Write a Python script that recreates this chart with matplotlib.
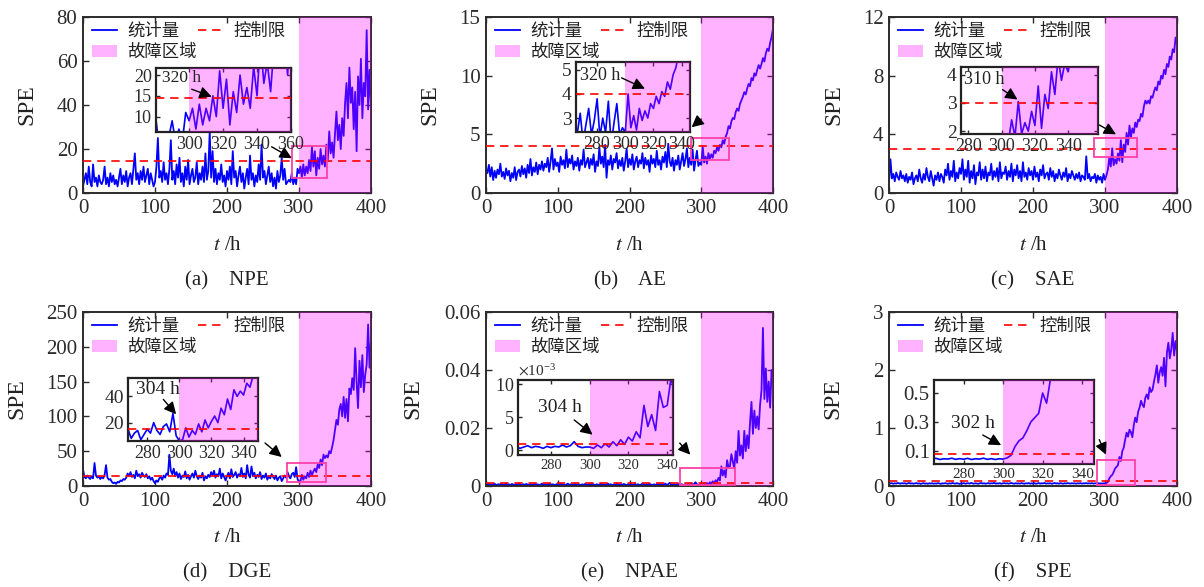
import numpy as np
import matplotlib.pyplot as plt
from matplotlib import ticker
from matplotlib.patches import Rectangle

plt.rcParams['font.family'] = ['Liberation Serif', 'Noto Sans CJK SC']
plt.rcParams['mathtext.fontset'] = 'stix'
plt.rcParams['axes.linewidth'] = 1.4
plt.rcParams['axes.edgecolor'] = '#2b2b2b'
plt.rcParams['xtick.color'] = '#2b2b2b'
plt.rcParams['ytick.color'] = '#2b2b2b'
plt.rcParams['text.color'] = '#222222'

W, H = 1204, 587

# one sample every 2 h
t_hours = np.arange(0, 401, 2)
fault_start = 300

npe_spe = [
    3, 6, 9, 4, 12, 5, 3, 13, 5, 7,
    3, 8, 5, 4, 6, 12, 4, 7, 3, 9,
    5, 8, 4, 6, 3, 7, 11, 4, 8, 5,
    10, 3, 7, 9, 4, 11, 18, 6, 9, 4,
    10, 6, 12, 5, 8, 11, 4, 9, 6, 3,
    5, 12, 25, 7, 10, 5, 14, 6, 9, 4,
    11, 24, 6, 10, 4, 13, 7, 16, 5, 9,
    3, 12, 6, 15, 4, 8, 11, 5, 7, 14,
    4, 9, 6, 12, 5, 18, 6, 10, 28, 7,
    19, 5, 11, 4, 9, 6, 13, 5, 8, 3,
    10, 6, 12, 4, 19, 7, 10, 3, 8, 12,
    5, 9, 2, 7, 11, 4, 17, 6, 9, 3,
    8, 5, 13, 6, 22, 7, 10, 4, 8, 12,
    5, 9, 3, 7, 2, 10, 5, 8, 16, 6,
    11, 4, 5, 6, 5, 9, 4, 7, 4, 11,
    9, 12, 7, 13, 8, 12, 9, 15, 10, 21,
    12, 19, 8, 16, 11, 20, 13, 17, 12, 22,
    15, 28, 18, 23, 16, 27, 37, 24, 31, 20,
    34, 26, 41, 50, 34, 57, 41, 48, 29, 46,
    19, 53, 40, 61, 34, 50, 44, 74, 38, 56,
    39]

ae_spe = [
    2.1, 1.7, 2.4, 1.4, 2.2, 1.1, 1.9, 1.3, 2.0, 1.6,
    2.5, 1.4, 1.8, 1.2, 2.1, 1.5, 1.9, 1.0, 1.7, 1.3,
    2.2, 1.1, 1.8, 2.0, 1.4, 2.3, 1.6, 2.1, 1.3, 2.4,
    1.7, 2.9, 1.5, 2.2, 1.8, 2.6, 1.6, 2.4, 2.0, 2.7,
    1.9, 2.5, 2.2, 3.0, 1.8, 2.7, 3.8, 2.0, 2.9, 2.3,
    2.6, 1.8, 3.1, 2.4, 2.8, 2.1, 3.7, 2.2, 2.9, 2.5,
    3.2, 2.0, 2.7, 2.3, 3.0, 1.9, 2.8, 2.4, 3.7, 2.2,
    2.6, 3.0, 2.1, 2.9, 2.4, 3.3, 1.8, 2.7, 2.3, 3.9,
    2.5, 3.1, 2.2, 4.1, 1.3, 2.8, 2.4, 3.2, 2.0, 2.9,
    2.6, 3.4, 2.1, 2.8, 2.3, 3.0, 1.9, 2.7, 3.8, 2.2,
    2.9, 2.4, 3.3, 2.0, 2.7, 3.1, 2.2, 2.8, 2.5, 3.4,
    2.1, 3.0, 2.4, 2.8, 1.8, 3.2, 2.5, 2.9, 2.2, 3.6,
    2.4, 2.8, 2.0, 3.1, 2.6, 3.5, 2.2, 4.2, 2.7, 2.3,
    3.0, 1.9, 2.8, 2.4, 3.2, 2.0, 2.7, 3.4, 2.3, 2.9,
    3.8, 2.2, 3.0, 2.4, 3.7, 1.9, 2.8, 3.6, 2.3, 2.6,
    2.4, 4.0, 2.6, 3.1, 2.5, 3.4, 2.9, 3.3, 3.0, 3.6,
    3.4, 3.9, 3.6, 4.1, 3.9, 4.5, 4.2, 4.8, 5.1, 5.7,
    5.5, 6.1, 6.4, 6.3, 6.9, 7.2, 7.0, 7.6, 7.9, 8.2,
    8.6, 8.4, 8.9, 9.3, 9.1, 9.8, 9.6, 10.2, 10.0, 10.5,
    10.9, 10.6, 11.0, 11.5, 11.2, 11.9, 12.3, 12.1, 12.8, 13.3,
    14.0]

sae_spe = [
    0.7, 2.3, 1.0, 1.3, 0.8, 1.4, 1.1, 0.9, 1.5, 1.0,
    1.2, 0.8, 1.3, 0.7, 1.1, 0.9, 1.4, 0.6, 1.0, 1.2,
    0.8, 1.6, 1.0, 0.7, 1.3, 0.9, 1.7, 1.1, 0.8, 1.5,
    1.0, 0.5, 1.2, 0.9, 1.4, 0.8, 1.3, 1.1, 0.7, 1.6,
    1.2, 2.0, 0.9, 1.5, 1.1, 2.2, 0.8, 1.4, 1.0, 1.7,
    1.3, 2.3, 0.9, 1.6, 1.1, 2.2, 0.7, 1.5, 1.0, 1.9,
    0.6, 1.4, 1.2, 2.1, 0.9, 1.6, 1.0, 1.8, 0.8, 1.4,
    1.2, 2.0, 0.9, 1.5, 1.1, 1.7, 0.8, 2.1, 1.0, 1.4,
    1.3, 1.8, 0.9, 1.5, 1.1, 2.0, 0.8, 1.6, 1.2, 1.9,
    1.0, 1.5, 0.8, 2.1, 1.1, 1.4, 0.9, 1.7, 1.2, 1.5,
    0.9, 1.8, 1.1, 1.4, 0.8, 1.6, 1.2, 1.9, 1.0, 1.3,
    1.4, 0.9, 1.7, 1.1, 1.5, 0.8, 1.3, 1.0, 1.6, 1.2,
    0.9, 1.4, 1.1, 1.7, 0.8, 1.3, 1.0, 1.5, 1.2, 0.9,
    1.3, 1.0, 1.4, 0.8, 1.2, 1.1, 0.9, 2.5, 1.0, 1.3,
    0.8, 1.1, 1.0, 1.3, 0.7, 1.2, 0.9, 1.1, 0.7, 1.3,
    0.9, 1.2, 1.6, 2.4, 1.8, 3.05, 1.9, 2.3, 2.0, 2.7,
    2.2, 3.6, 2.1, 3.3, 2.8, 4.1, 3.3, 4.6, 3.8, 4.4,
    4.1, 4.8, 4.5, 5.0, 4.9, 5.4, 5.2, 5.9, 6.3, 6.1,
    6.3, 6.1, 6.6, 6.5, 6.9, 7.2, 7.0, 7.6, 7.4, 8.0,
    7.8, 8.4, 8.1, 8.8, 8.6, 9.3, 9.1, 9.8, 9.6, 10.6,
    10.2]

dge_spe = [
    24, 13, 11, 15, 12, 10, 14, 11, 33, 15,
    12, 14, 10, 13, 11, 16, 30, 12, 9, 10,
    6, 4, 5, 3, 6, 5, 8, 7, 10, 9,
    12, 18, 14, 20, 13, 16, 11, 22, 14, 17,
    12, 19, 15, 13, 17, 11, 14, 9, 12, 7,
    4, 8, 6, 11, 13, 9, 15, 12, 18, 16,
    45, 22, 17, 25, 14, 20, 12, 18, 10, 15,
    13, 21, 11, 16, 9, 14, 18, 12, 22, 14,
    10, 15, 12, 19, 8, 14, 11, 16, 13, 20,
    15, 22, 12, 17, 14, 25, 11, 18, 13, 8,
    14, 19, 11, 24, 13, 16, 20, 12, 17, 14,
    26, 13, 18, 11, 30, 16, 12, 28, 14, 19,
    11, 16, 13, 20, 10, 15, 12, 18, 9, 14,
    11, 17, 13, 10, 15, 8, 12, 14, 7, 11,
    15, 12, 20, 14, 11, 17, 19, 13, 27, 10,
    6, 7, 16, 9, 14, 11, 19, 13, 22, 16,
    21, 25, 20, 31, 26, 38, 30, 45, 40, 44,
    41, 50, 47, 56, 66, 80, 95, 88, 110, 118,
    100, 128, 98, 125, 93, 140, 132, 155, 138, 198,
    150, 112, 180, 142, 188, 135, 160, 175, 232, 170,
    210]

# NPAE statistic in units of 1e-3
npae_spe_e3 = [
    0.9, 0.5, 0.7, 0.3, 0.6, 0.4, 0.8, 0.3, 0.5, 0.6,
    0.4, 0.7, 0.3, 0.5, 0.8, 0.4, 0.6, 0.3, 0.7, 0.5,
    0.3, 0.6, 0.4, 0.8, 0.5, 0.3, 0.6, 0.4, 0.7, 0.5,
    0.4, 0.6, 0.3, 0.5, 0.7, 0.4, 0.6, 0.3, 0.5, 0.8,
    0.4, 0.6, 0.5, 0.3, 0.7, 0.4, 0.6, 0.5, 0.3, 0.6,
    0.5, 0.3, 0.7, 0.4, 0.6, 0.3, 0.5, 0.8, 0.4, 0.6,
    0.3, 0.5, 0.7, 0.4, 0.6, 0.5, 0.3, 0.6, 0.4, 0.7,
    0.5, 0.3, 0.6, 0.4, 0.8, 0.5, 0.3, 0.6, 0.4, 0.5,
    0.7, 0.4, 0.6, 0.3, 0.5, 0.8, 0.4, 0.6, 0.3, 0.5,
    0.4, 0.7, 0.5, 0.3, 0.6, 0.4, 0.7, 0.5, 0.3, 0.6,
    0.4, 0.6, 0.3, 0.5, 0.7, 0.4, 0.6, 0.3, 0.5, 0.8,
    0.5, 0.3, 0.6, 0.4, 0.7, 0.5, 0.3, 0.6, 0.4, 0.5,
    0.7, 0.4, 0.6, 0.3, 0.5, 0.8, 0.4, 0.6, 1.1, 0.5,
    0.4, 0.6, 0.3, 0.5, 0.7, 0.4, 0.6, 0.5, 0.3, 0.6,
    0.4, 0.6, 0.5, 0.8, 0.5, 0.7, 1.3, 0.6, 0.4, 0.5,
    0.5, 0.3, 0.8, 0.4, 1.0, 0.5, 1.3, 0.7, 1.6, 0.9,
    2.0, 1.4, 2.8, 1.9, 6.8, 3.6, 5.4, 3.0, 8.9, 6.5,
    6.8, 11.0, 8.5, 6.0, 12.0, 8.0, 19.0, 10.5, 14.0, 9.5,
    19.0, 12.0, 17.5, 13.0, 22.0, 29.0, 18.0, 26.0, 20.0, 24.0,
    19.5, 28.0, 33.0, 54.5, 30.0, 40.5, 29.0, 36.0, 27.0, 40.0,
    38.0]

spe_spe = [
    0.052, 0.044, 0.049, 0.038, 0.047, 0.041, 0.053, 0.045, 0.040, 0.050,
    0.043, 0.048, 0.037, 0.046, 0.051, 0.042, 0.047, 0.039, 0.045, 0.050,
    0.041, 0.046, 0.036, 0.044, 0.049, 0.040, 0.045, 0.038, 0.047, 0.042,
    0.048, 0.039, 0.045, 0.041, 0.050, 0.043, 0.037, 0.046, 0.042, 0.049,
    0.044, 0.038, 0.047, 0.041, 0.052, 0.045, 0.040, 0.048, 0.043, 0.037,
    0.046, 0.042, 0.050, 0.039, 0.045, 0.048, 0.041, 0.053, 0.044, 0.040,
    0.047, 0.043, 0.038, 0.046, 0.051, 0.042, 0.048, 0.039, 0.045, 0.050,
    0.041, 0.047, 0.044, 0.055, 0.040, 0.046, 0.042, 0.049, 0.038, 0.045,
    0.050, 0.043, 0.047, 0.040, 0.046, 0.052, 0.044, 0.039, 0.048, 0.042,
    0.046, 0.041, 0.050, 0.044, 0.038, 0.047, 0.043, 0.051, 0.040, 0.046,
    0.042, 0.049, 0.039, 0.045, 0.050, 0.041, 0.047, 0.044, 0.053, 0.040,
    0.046, 0.043, 0.048, 0.038, 0.045, 0.051, 0.042, 0.047, 0.040, 0.049,
    0.044, 0.039, 0.047, 0.042, 0.050, 0.045, 0.041, 0.048, 0.043, 0.046,
    0.040, 0.047, 0.043, 0.049, 0.041, 0.046, 0.044, 0.050, 0.042, 0.047,
    0.043, 0.049, 0.041, 0.046, 0.044, 0.050, 0.042, 0.047, 0.041, 0.046,
    0.044, 0.052, 0.07, 0.13, 0.17, 0.19, 0.24, 0.30, 0.33, 0.36,
    0.50, 0.43, 0.60, 0.66, 0.80, 0.92, 0.85, 0.97, 0.93, 0.84,
    1.05, 1.18, 1.10, 1.28, 1.35, 1.47, 1.40, 1.36, 1.52, 1.58,
    1.50, 1.70, 1.62, 1.66, 1.80, 1.92, 2.08, 1.78, 1.96, 2.05,
    1.90, 2.21, 1.72, 2.30, 2.47, 2.20, 2.35, 2.64, 2.25, 2.50,
    2.32]

methods = ['NPE', 'AE', 'SAE', 'DGE', 'NPAE', 'SPE']
letters = ['a', 'b', 'c', 'd', 'e', 'f']
series = [npe_spe, ae_spe, sae_spe, dge_spe,
          [v * 1e-3 for v in npae_spe_e3], spe_spe]
control_limits = [14.5, 4.0, 3.0, 15.0, 0.001, 0.08]
detect_labels = ['320 h', '320 h', '310 h', '304 h', '304 h', '302 h']
y_max = [80, 15, 12, 250, 0.06, 3]
y_ticks = [[0, 20, 40, 60, 80], [0, 5, 10, 15], [0, 4, 8, 12],
           [0, 50, 100, 150, 200, 250], [0, 0.02, 0.04, 0.06], [0, 1, 2, 3]]

# zoom window of each inset
inset_xlim = [(280.5, 360), (265, 346), (275.5, 358), (268, 349), (263, 343), (265, 346)]
inset_ylim = [(6.3, 21.7), (2.42, 5.33), (1.9, 4.27), (6, 54), (-0.71e-3, 10.65e-3), (0.01, 0.59)]
inset_xticks = [[300, 320, 340, 360]] + [[280, 300, 320, 340]] * 5
inset_yticks = [[10, 15, 20], [3, 4, 5], [2, 3, 4], [20, 40], [0, 5e-3, 10e-3], [0.1, 0.3, 0.5]]
zoom_rect = [(290.7, 7.0, 338.5, 21.4), (286.2, 2.8, 338.7, 4.72), (284.3, 2.43, 344, 3.73),
             (283, 5.7, 337.5, 33), (270, 0.0003, 347.5, 0.0061), (288.4, 0.02, 342, 0.453)]

# ---- layout (pixels) ----
main_boxes = [(83, 17, 371, 193), (486, 17, 773, 193), (889, 17, 1177, 193),
              (83, 312, 371, 486), (486, 312, 773, 486), (889, 312, 1177, 486)]
inset_boxes = [(156, 68, 291, 132), (576, 62, 690, 132), (961, 67, 1098, 134),
               (128, 378, 258, 441), (518, 380, 673, 455), (934, 380, 1094, 464)]
main_arrows = [((262, 21), (290, 15.8)), ((300, 6.3), (286.5, 5.6)), ((292, 4.64), (315.3, 4.0)),
               ((252.8, 61.8), (276, 41.7)), ((270, 0.0148), (284.7, 0.0108)), ((292, 0.80), (301.4, 0.54))]
inset_arrows = [((301.5, 16.6), (313.3, 14.8)), ((297.4, 4.67), (314, 4.22)), ((300.5, 3.47), (309.5, 3.12)),
                ((290, 37.7), (298, 26.4)), ((292, 4.6e-3), (301.5, 2.37e-3)), ((289.7, 0.21), (299, 0.14))]
inset_text_pos = [(283.9, 19.2), (267.6, 4.77), (277.3, 3.82), (273, 45.2), (273.3, 6.47e-3), (273.6, 0.29)]
inset_text_size = [12.5, 13, 13, 14, 14, 14]
inset_xsize = [13, 13, 13, 13, 10.5, 11]
inset_ysize = [13, 14, 14, 14, 13, 15]
ylabel_x = [27, 430, 834, 17, 413, 833]


def frac_box(l, top, r, bot):
    return [l / W, 1 - bot / H, (r - l) / W, (bot - top) / H]


arrow_kw = dict(arrowstyle='-|>,head_length=0.6,head_width=0.3', color='k', lw=1.0,
                mutation_scale=12, shrinkA=0, shrinkB=0)
leg_kw = dict(loc='upper left', frameon=False, prop={'family': 'Noto Sans CJK SC', 'size': 12.5},
              handlelength=1.45, handletextpad=0.6, columnspacing=1.05,
              borderpad=0, borderaxespad=0)

fig = plt.figure(figsize=(W / 100, H / 100), dpi=100)

for i in range(6):
    l, top, r, bot = main_boxes[i]
    h_px = bot - top
    y = np.asarray(series[i])
    ax = fig.add_axes(frac_box(l, top, r, bot))
    ln, = ax.plot(t_hours, y, color='blue', lw=1.3, zorder=2, label='统计量')
    sp = ax.axvspan(fault_start, 400, color='magenta', alpha=0.3, lw=0, zorder=3, label='故障区域')
    cl = ax.axhline(control_limits[i], color='red', ls=(0, (5, 3.5)), lw=1.2, zorder=4, label='控制限')
    ax.set_xlim(0, 400)
    ax.set_ylim(0, y_max[i])
    ax.set_xticks([0, 100, 200, 300, 400])
    ax.set_yticks(y_ticks[i])
    if i == 4:
        ax.yaxis.set_major_formatter(ticker.FuncFormatter(lambda v, p: '0' if v == 0 else f'{v:.2f}'))
    ax.tick_params(direction='in', top=True, right=True, length=4, width=1, labelsize=15, pad=4)

    x0, y0, x1, y1 = zoom_rect[i]
    ax.add_patch(Rectangle((x0, y0), x1 - x0, y1 - y0, fill=False, edgecolor='#ff3fa8', lw=1.3, zorder=5))
    tail, tip = main_arrows[i]
    ax.annotate('', xy=tip, xytext=tail, arrowprops=arrow_kw, zorder=6)

    # legend: first row has two entries, fault region on its own row below
    leg1 = ax.legend(handles=[ln, cl], ncol=2, bbox_to_anchor=(0.03, 1 - 5 / h_px), **leg_kw)
    ax.add_artist(leg1)
    ax.legend(handles=[sp], bbox_to_anchor=(0.03, 1 - 25.7 / h_px), **leg_kw)

    cx = (l + r) / 2
    row_base = 0 if i < 3 else 292
    fig.text(ylabel_x[i] / W, 1 - (top + bot) / 2 / H, 'SPE', rotation=90,
             ha='center', va='center', fontsize=17)
    fig.text(cx / W, 1 - (250 + row_base) / H, r'$t$ /h', ha='center', va='baseline', fontsize=15)
    fig.text(cx / W, 1 - (285.5 + row_base) / H, f'({letters[i]})    {methods[i]}',
             ha='center', va='baseline', fontsize=15)

    # inset with the zoomed fault onset
    ins = fig.add_axes(frac_box(*inset_boxes[i]))
    ins.plot(t_hours, y, color='blue', lw=1.2, zorder=2)
    ins.axvspan(fault_start, 400, color='magenta', alpha=0.3, lw=0, zorder=3)
    ins.axhline(control_limits[i], color='red', ls=(0, (5, 3.5)), lw=1.2, zorder=4)
    ins.set_xlim(*inset_xlim[i])
    ins.set_ylim(*inset_ylim[i])
    ins.set_xticks(inset_xticks[i])
    ins.set_yticks(inset_yticks[i])
    if i == 4:
        fmt = ticker.ScalarFormatter(useMathText=True)
        fmt.set_powerlimits((-3, -3))
        ins.yaxis.set_major_formatter(fmt)
        ins.yaxis.get_offset_text().set_fontsize(11)
    ins.tick_params(direction='in', top=True, right=True, length=3, width=1, pad=3)
    ins.tick_params(axis='x', labelsize=inset_xsize[i])
    ins.tick_params(axis='y', labelsize=inset_ysize[i])
    for s in ins.spines.values():
        s.set_linewidth(1.6)
        s.set_edgecolor('#222222')
    tx, ty = inset_text_pos[i]
    ins.text(tx, ty, detect_labels[i], ha='left', va='center', fontsize=inset_text_size[i], zorder=6)
    tail, tip = inset_arrows[i]
    ins.annotate('', xy=tip, xytext=tail, arrowprops=arrow_kw, zorder=6)

fig.savefig('out.png', dpi=100, facecolor='white')
